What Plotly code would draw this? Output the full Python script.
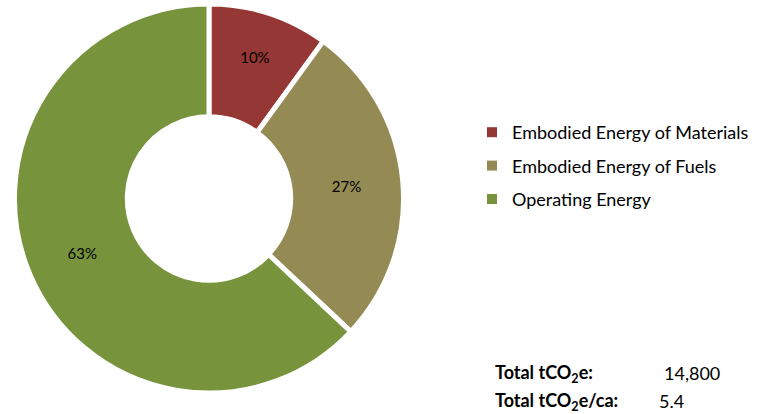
import plotly.graph_objects as go

categories = ["Embodied Energy of Materials", "Embodied Energy of Fuels", "Operating Energy"]
values = [10, 27, 63]
colors = ["#953735", "#948A54", "#77933C"]
total_labels = ["Total tCO<sub>2</sub>e:", "Total tCO<sub>2</sub>e/ca:"]
total_values = ["14,800", "5.4"]

W, H = 763, 414
FONT = "Lato"

fig = go.Figure()
fig.add_trace(go.Pie(
    labels=categories, values=values, sort=False, direction="clockwise", rotation=0,
    hole=0.42,
    marker=dict(colors=colors, line=dict(color="white", width=5)),
    textinfo="percent", texttemplate="%{percent:.0%}", textposition="inside",
    insidetextorientation="horizontal",
    textfont=dict(family=FONT, size=15, color="black"),
    showlegend=False,
    domain=dict(x=[10/W, 408/W], y=[1-393/H, 1-4/H]),
))
for i, (c, col) in enumerate(zip(categories, colors)):
    fig.add_trace(go.Scatter(
        x=[None], y=[None], mode="markers", name=c, legendgroup=f"g{i}",
        marker=dict(symbol="square", size=10, color=col),
    ))

ys = [373, 401]
for lab, val, y, vx in zip(total_labels, total_values, ys, [662, 657]):
    fig.add_annotation(x=493/W, y=1-y/H, xref="paper", yref="paper", text=f"<b>{lab}</b>",
                       showarrow=False, xanchor="left", yanchor="middle",
                       font=dict(family=FONT, size=18, color="black"))
    fig.add_annotation(x=vx/W, y=1-y/H, xref="paper", yref="paper", text=val,
                       showarrow=False, xanchor="left", yanchor="middle",
                       font=dict(family=FONT, size=18, color="black"))

fig.update_layout(
    width=W, height=H, margin=dict(l=0, r=0, t=0, b=0),
    paper_bgcolor="white", plot_bgcolor="white",
    xaxis=dict(visible=False), yaxis=dict(visible=False),
    legend=dict(x=472/W, y=1-114/H, xanchor="left", yanchor="top",
                font=dict(family=FONT, size=18, color="black"),
                tracegroupgap=7, itemclick=False, itemdoubleclick=False),
)
fig.write_html("out.html")
